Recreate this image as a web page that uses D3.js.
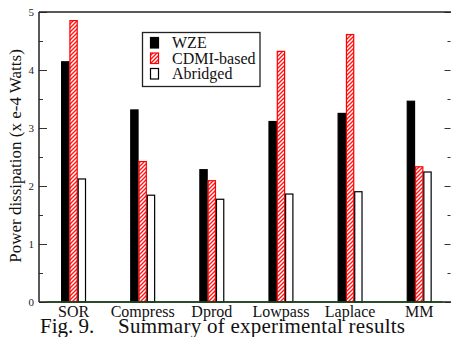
<!DOCTYPE html>
<html>
<head>
<meta charset="utf-8">
<script src="https://cdn.jsdelivr.net/npm/d3@7"></script>
<style>
  body { margin: 0; background: #fff; }
  svg text { font-family: "Liberation Serif", "Times New Roman", serif; }
</style>
</head>
<body>
<div id="chart"></div>
<script>
var w = 451;
var h = 337;

// data
var benchmarks = ["SOR", "Compress", "Dprod", "Lowpass", "Laplace", "MM"];
var seriesNames = ["WZE", "CDMI-based", "Abridged"];
var wze = [4.15, 3.32, 2.29, 3.12, 3.26, 3.47];
var cdmi = [4.86, 2.43, 2.10, 4.33, 4.62, 2.34];
var abridged = [2.13, 1.85, 1.78, 1.87, 1.91, 2.25];
var yTicks = [0, 1, 2, 3, 4, 5];

var padL = 39, padR = 451, padT = 12, padB = 302;

var svg = d3.select("#chart")
            .append("svg")
            .attr("width", w)
            .attr("height", h);

// red hatch pattern
var defs = svg.append("defs");
var pat = defs.append("pattern")
    .attr("id", "hatch")
    .attr("patternUnits", "userSpaceOnUse")
    .attr("width", 4)
    .attr("height", 4);
pat.append("rect").attr("width", 4).attr("height", 4).attr("fill", "#ff1a1a");
pat.append("path")
    .attr("d", "M-1,1 l2,-2 M0,4 l4,-4 M3,5 l2,-2")
    .attr("stroke", "#fff")
    .attr("stroke-width", 1.4);

// scales
var xScale = d3.scaleLinear().domain([0.5, 6.46]).range([padL, padR]);
var yScale = d3.scaleLinear().domain([0, 5]).range([padB, padT]);

var barW = 0.12;
var series = [
    { name: seriesNames[0], values: wze, off: -1.5 * barW, fill: "#000", stroke: "#000" },
    { name: seriesNames[1], values: cdmi, off: -0.5 * barW, fill: "url(#hatch)", stroke: "#ff0000" },
    { name: seriesNames[2], values: abridged, off: 0.5 * barW, fill: "#fff", stroke: "#000" }
];

// bars
series.forEach(function(s) {
    svg.append("g").selectAll("rect")
        .data(s.values)
        .enter()
        .append("rect")
        .attr("x", (d, i) => xScale(i + 1 + s.off) + 0.5)
        .attr("y", (d) => yScale(d) + 0.5)
        .attr("width", xScale(1 + barW) - xScale(1) - 1)
        .attr("height", (d) => yScale(0) - yScale(d) - 0.5)
        .attr("fill", s.fill)
        .attr("stroke", s.stroke)
        .attr("stroke-width", 1.2);
});

// left axis, ticks inside
var minor = d3.range(0.5, 5, 1);
svg.append("g")
    .attr("transform", "translate(" + padL + ",0)")
    .call(d3.axisLeft(yScale).tickValues(yTicks).tickSize(-8).tickPadding(5).tickFormat(d3.format("d")))
    .call(g => g.select(".domain").remove())
    .call(g => g.selectAll("text").attr("font-size", 11).attr("fill", "#222")
        .style("font-family", "'Liberation Serif', serif"))
    .call(g => g.selectAll("line").attr("stroke", "#333"));
svg.append("g")
    .attr("transform", "translate(" + padL + ",0)")
    .call(d3.axisLeft(yScale).tickValues(minor).tickSize(-4).tickFormat(""))
    .call(g => g.select(".domain").remove())
    .call(g => g.selectAll("line").attr("stroke", "#333"));

// right axis, ticks inside
svg.append("g")
    .attr("transform", "translate(" + (padR - 0.5) + ",0)")
    .call(d3.axisRight(yScale).tickValues(yTicks).tickSize(-6).tickFormat(""))
    .call(g => g.select(".domain").remove())
    .call(g => g.selectAll("line").attr("stroke", "#333"));
svg.append("g")
    .attr("transform", "translate(" + (padR - 0.5) + ",0)")
    .call(d3.axisRight(yScale).tickValues(minor).tickSize(-3).tickFormat(""))
    .call(g => g.select(".domain").remove())
    .call(g => g.selectAll("line").attr("stroke", "#333"));

// frame
svg.append("line")
    .attr("x1", padL).attr("x2", padR).attr("y1", padT).attr("y2", padT)
    .attr("stroke", "#222").attr("stroke-width", 1.5);
svg.append("line")
    .attr("x1", padL).attr("x2", padL).attr("y1", padT).attr("y2", padB)
    .attr("stroke", "#222").attr("stroke-width", 1.5);
svg.append("line")
    .attr("x1", padL).attr("x2", padR).attr("y1", padB).attr("y2", padB)
    .attr("stroke", "#222").attr("stroke-width", 1.5);
svg.append("line")
    .attr("x1", padL + 8).attr("x2", padR - 8).attr("y1", padB).attr("y2", padB)
    .attr("stroke", "#1e4a1e").attr("stroke-width", 1.5);

// category labels
svg.append("g").selectAll("text")
    .data(benchmarks)
    .enter()
    .append("text")
    .attr("x", (d, i) => xScale(i + 1))
    .attr("y", 317)
    .attr("text-anchor", "middle")
    .attr("font-size", 16)
    .attr("fill", "#111")
    .text((d) => d);

// y title
svg.append("text")
    .attr("transform", "translate(21," + 156 + ") rotate(-90)")
    .attr("text-anchor", "middle")
    .attr("font-size", 17)
    .attr("fill", "#111")
    .text("Power dissipation (x e-4 Watts)");

// legend
var lg = svg.append("g");
lg.append("rect")
    .attr("x", 142.5).attr("y", 32.5)
    .attr("width", 117.5).attr("height", 54)
    .attr("fill", "#fff").attr("stroke", "#222").attr("stroke-width", 1.3);
series.forEach(function(s, i) {
    var cy = 42.5 + i * 15.5;
    lg.append("rect")
        .attr("x", 150.5).attr("y", cy - 5)
        .attr("width", 8).attr("height", 10.5)
        .attr("fill", s.fill).attr("stroke", s.stroke).attr("stroke-width", 1.2);
    lg.append("text")
        .attr("x", 172).attr("y", cy + 5.5)
        .attr("font-size", 16)
        .attr("fill", "#111")
        .text(s.name);
});

// caption
svg.append("text")
    .attr("x", 40).attr("y", 333)
    .attr("font-size", 21)
    .attr("fill", "#111")
    .text("Fig. 9.");
svg.append("text")
    .attr("x", 118).attr("y", 333)
    .attr("font-size", 21)
    .attr("fill", "#111")
    .attr("textLength", 287)
    .attr("lengthAdjust", "spacing")
    .text("Summary of experimental results");
</script>
</body>
</html>
